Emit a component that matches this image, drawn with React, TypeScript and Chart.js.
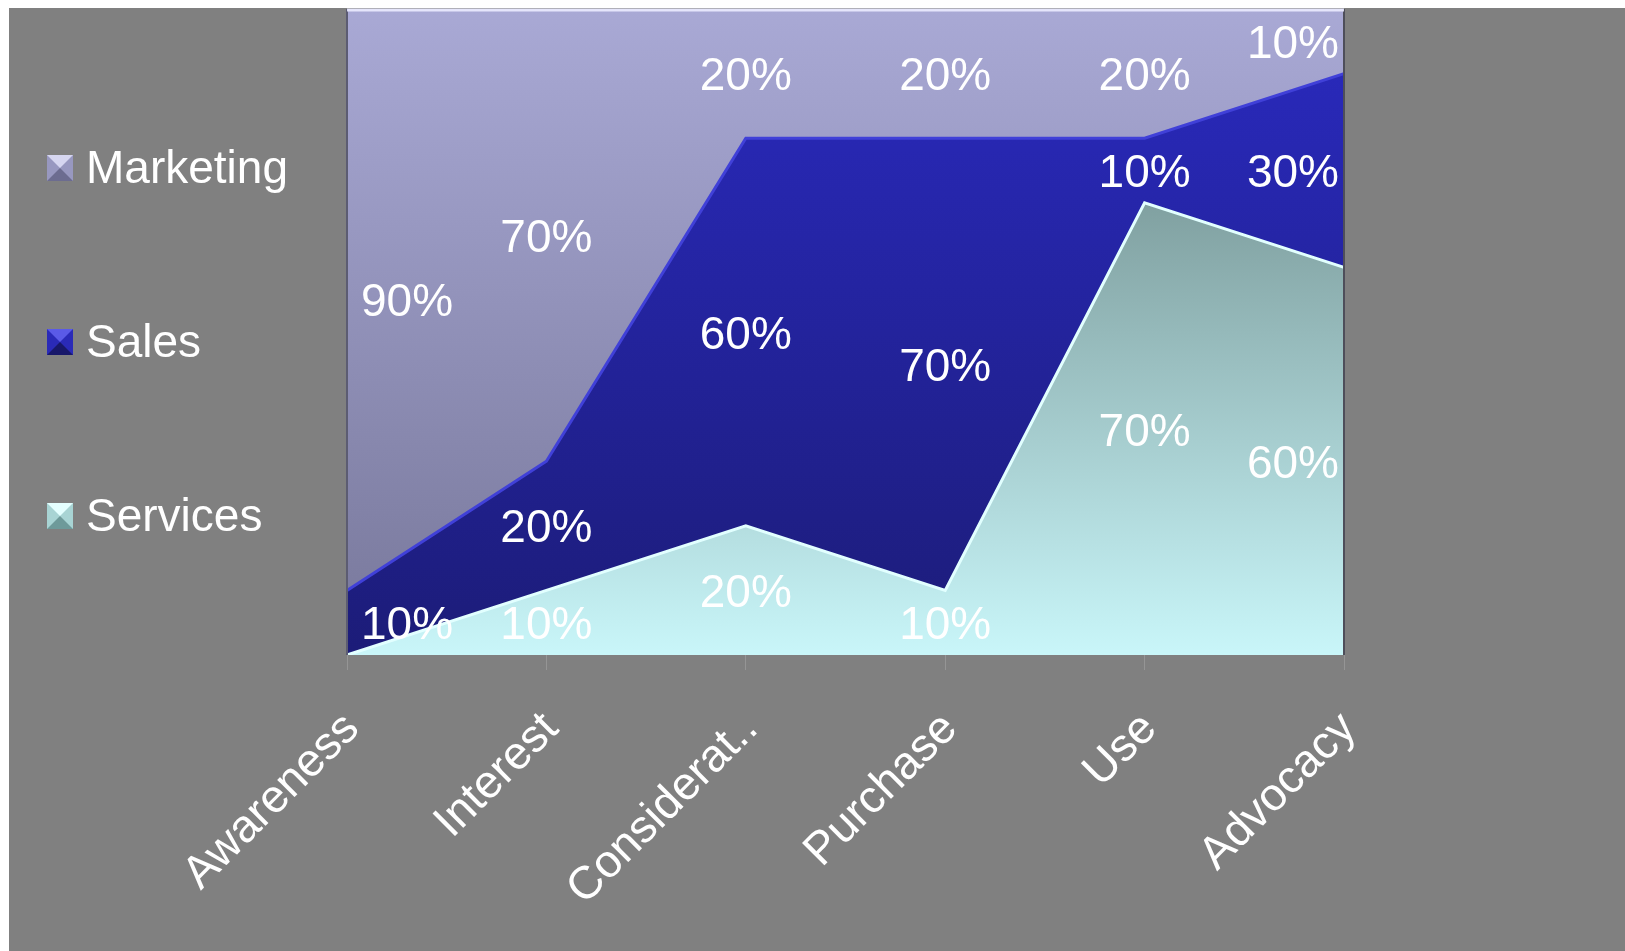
import React, { useEffect, useRef } from "react";
import { Chart, registerables } from "chart.js";

Chart.register(...registerables);

// ---------- data ----------
const categories = ["Awareness", "Interest", "Considerat..", "Purchase", "Use", "Advocacy"];
const servicesValues = [0, 10, 20, 10, 70, 60];
const salesValues = [10, 20, 60, 70, 10, 30];
const marketingValues = [90, 70, 20, 20, 20, 10];
const seriesNames = ["Services", "Sales", "Marketing"];

// ---------- styles ----------
const FONT = '"Liberation Sans", Arial, Helvetica, sans-serif';
const gradStops: Record<string, [string, string]> = {
  Services: ["#617c7b", "#c9f6f9"],
  Sales: ["#2a2ac0", "#1c1c78"],
  Marketing: ["#a9a9d5", "#77779a"],
};
const legendColors: Record<string, [string, string, string]> = {
  Marketing: ["#d6d6f0", "#9898c0", "#6c6c90"],
  Sales: ["#5a5ae8", "#2a2ab8", "#18186a"],
  Services: ["#e4ffff", "#a8d4d4", "#6e9a9a"],
};
const borderColors: Record<string, string> = {
  Services: "#e2ffff",
  Sales: "#4040d8",
  Marketing: "rgba(0,0,0,0)",
};

function areaGradient(name: string) {
  return (ctx: any) => {
    const chart = ctx.chart;
    const area = chart.chartArea;
    if (!area) return gradStops[name][0];
    const g = chart.ctx.createLinearGradient(0, area.top, 0, area.bottom);
    g.addColorStop(0, gradStops[name][0]);
    g.addColorStop(1, gradStops[name][1]);
    return g;
  };
}

const dataLabelPlugin = {
  id: "dataLabels",
  afterDatasetsDraw(chart: any) {
    const { ctx, chartArea } = chart;
    const xs = chart.scales.x;
    const ys = chart.scales.y;
    const ds = chart.data.datasets;
    ctx.save();
    ctx.font = `46px ${FONT}`;
    ctx.fillStyle = "#ffffff";
    ctx.textBaseline = "middle";
    ctx.textAlign = "center";
    for (let j = 0; j < chart.data.labels.length; j++) {
      let base = 0;
      for (let i = 0; i < ds.length; i++) {
        const v = ds[i].data[j] as number;
        if (v > 0) {
          const text = `${v}%`;
          const w = ctx.measureText(text).width;
          let x = xs.getPixelForValue(j);
          x = Math.max(chartArea.left + 14 + w / 2, Math.min(chartArea.right - 5 - w / 2, x));
          const y = ys.getPixelForValue(base + v / 2) + 4;
          ctx.fillText(text, x, y);
        }
        base += v;
      }
    }
    ctx.restore();
  },
};

const framePlugin = {
  id: "frame",
  afterDatasetsDraw(chart: any) {
    const { ctx, chartArea } = chart;
    ctx.save();
    ctx.lineWidth = 2;
    ctx.strokeStyle = "#5c5c72";
    ctx.beginPath();
    ctx.moveTo(chartArea.left, chartArea.top);
    ctx.lineTo(chartArea.left, chartArea.bottom);
    ctx.stroke();
    ctx.strokeStyle = "#4e4e5a";
    ctx.beginPath();
    ctx.moveTo(chartArea.right, chartArea.top);
    ctx.lineTo(chartArea.right, chartArea.bottom);
    ctx.stroke();
    ctx.strokeStyle = "rgba(235,235,255,0.9)";
    ctx.lineWidth = 3;
    ctx.beginPath();
    ctx.moveTo(chartArea.left, chartArea.top + 1);
    ctx.lineTo(chartArea.right, chartArea.top + 1);
    ctx.stroke();
    ctx.restore();
  },
};

const legendPlugin = {
  id: "sideLegend",
  afterDraw(chart: any) {
    const { ctx } = chart;
    const items = [...chart.data.datasets].reverse();
    const boxX = 38;
    const box = 26;
    const textX = 77;
    const firstY = 160;
    const step = 174;
    ctx.save();
    ctx.font = `46px ${FONT}`;
    ctx.textBaseline = "middle";
    ctx.textAlign = "left";
    items.forEach((d: any, k: number) => {
      const y = firstY + k * step;
      const c = legendColors[d.label];
      const top = y - box / 2;
      ctx.fillStyle = c[1];
      ctx.fillRect(boxX, top, box, box);
      ctx.fillStyle = c[0];
      ctx.beginPath();
      ctx.moveTo(boxX, top);
      ctx.lineTo(boxX + box, top);
      ctx.lineTo(boxX + box / 2, top + box / 2);
      ctx.closePath();
      ctx.fill();
      ctx.fillStyle = c[2];
      ctx.beginPath();
      ctx.moveTo(boxX, top + box);
      ctx.lineTo(boxX + box, top + box);
      ctx.lineTo(boxX + box / 2, top + box / 2);
      ctx.closePath();
      ctx.fill();
      ctx.fillStyle = "#ffffff";
      ctx.fillText(d.label, textX, y + 2);
    });
    ctx.restore();
  },
};

export default function App() {
  const ref = useRef<HTMLCanvasElement>(null);

  useEffect(() => {
    const canvas = ref.current;
    if (!canvas) return;
    const values = [servicesValues, salesValues, marketingValues];
    const chart = new Chart(canvas, {
      type: "line",
      data: {
        labels: categories,
        datasets: seriesNames.map((name, i) => ({
          label: name,
          data: values[i],
          fill: i === 0 ? "origin" : "-1",
          backgroundColor: areaGradient(name),
          borderColor: borderColors[name],
          borderWidth: i === 2 ? 0 : 3,
          pointRadius: 0,
          tension: 0,
        })),
      },
      options: {
        responsive: true,
        maintainAspectRatio: false,
        animation: false,
        layout: { padding: { left: 338, right: 281, top: 1, bottom: 0 } },
        plugins: {
          legend: { display: false },
          tooltip: { enabled: false },
        },
        scales: {
          x: {
            offset: false,
            grid: {
              display: true,
              drawOnChartArea: false,
              tickLength: 15,
              color: "#959595",
            },
            border: { display: false },
            ticks: {
              color: "#ffffff",
              font: { family: FONT, size: 46 },
              minRotation: 45,
              maxRotation: 45,
              autoSkip: false,
              padding: 32,
              labelOffset: 5,
            },
            afterFit: (s: any) => {
              s.height = 296;
            },
          },
          y: {
            display: false,
            stacked: true,
            min: 0,
            max: 100,
          },
        },
      },
      plugins: [dataLabelPlugin, framePlugin, legendPlugin],
    });
    return () => chart.destroy();
  }, []);

  return (
    <div
      style={{
        position: "fixed",
        left: 9,
        top: 8,
        right: 0,
        bottom: 0,
        background: "#808080",
      }}
    >
      <canvas ref={ref} />
    </div>
  );
}
